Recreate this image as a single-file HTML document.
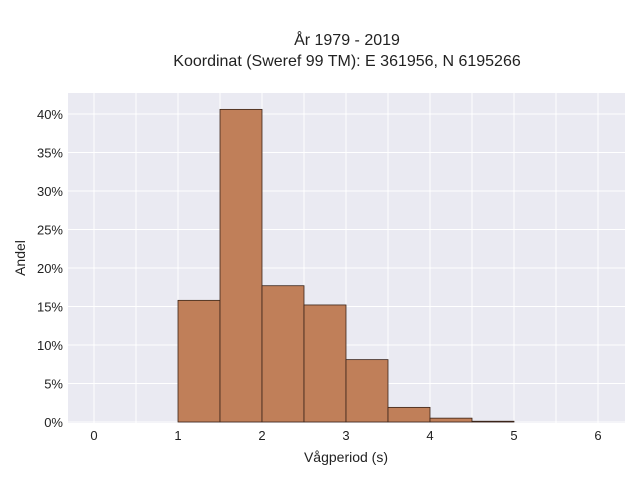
<!DOCTYPE html>
<html><head><meta charset="utf-8"><style>
body{margin:0;background:#fff;font-family:"Liberation Sans",sans-serif;}
</style></head><body>
<svg id="chart" width="640" height="480" xmlns="http://www.w3.org/2000/svg">
<text x="347" y="45" text-anchor="middle" font-size="16" fill="#222">År 1979 - 2019</text>
<text x="347" y="66" text-anchor="middle" font-size="16" fill="#222">Koordinat (Sweref 99 TM): E 361956, N 6195266</text>
<rect x="68" y="93" width="557" height="330" fill="#eaeaf2"/>
<g id="grid"></g>
<g id="bars"></g>
<g id="ticks"></g>
<text x="346" y="462" text-anchor="middle" font-size="14" fill="#222">Vågperiod (s)</text>
<text transform="translate(25,258) rotate(-90)" text-anchor="middle" font-size="14" fill="#222">Andel</text>
</svg>
<script>
const binStarts=[1,1.5,2,2.5,3,3.5,4,4.5];
const binWidth=0.5;
const shares=[15.8,40.6,17.7,15.2,8.1,1.9,0.5,0.1];
const xTicks=[0,1,2,3,4,5,6];
const yTicks=[0,5,10,15,20,25,30,35,40];
const X=v=>94+v*84, Y=v=>422-v*7.7;
const ns="http://www.w3.org/2000/svg";
const grid=document.getElementById('grid'),bars=document.getElementById('bars'),ticks=document.getElementById('ticks');
function mk(tag,attrs,parent){const e=document.createElementNS(ns,tag);for(const k in attrs)e.setAttribute(k,attrs[k]);parent.appendChild(e);return e;}
for(let v=0;v<=6;v+=0.5){const l=mk('line',{x1:X(v),x2:X(v),y1:93,y2:423,stroke:'#fff','stroke-width':1},grid);

}
yTicks.forEach(v=>{const l=mk('line',{x1:68,x2:625,y1:Y(v),y2:Y(v),stroke:'#fff','stroke-width':1},grid);


const t=mk('text',{x:63,y:Y(v)+5,'text-anchor':'end','font-size':13,fill:'#222'},ticks);t.textContent=v+'%';

});
xTicks.forEach(v=>{const t=mk('text',{x:X(v),y:440,'text-anchor':'middle','font-size':13,fill:'#222'},ticks);t.textContent=v;

});
binStarts.forEach((s,i)=>{const r=mk('rect',{x:X(s),y:Y(shares[i]),width:X(s+binWidth)-X(s),height:Y(0)-Y(shares[i]),fill:'#c07f59',stroke:'#3a2418','stroke-width':0.8},bars);

});
</script>
</body></html>
